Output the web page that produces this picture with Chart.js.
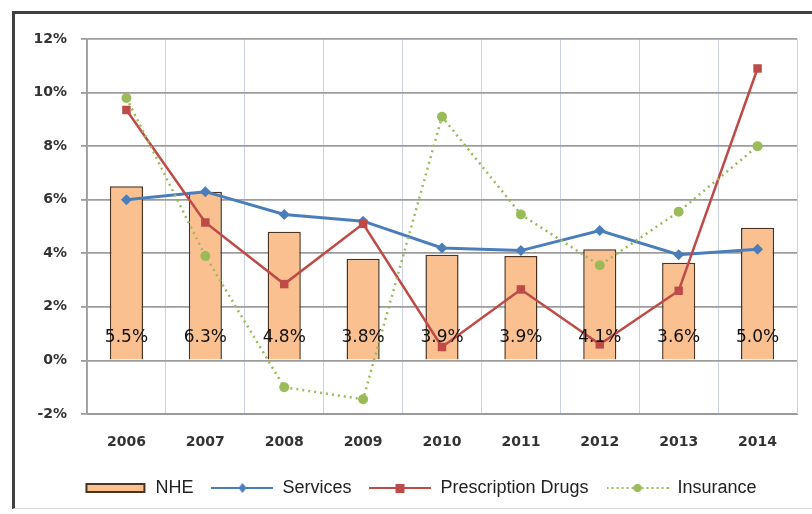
<!DOCTYPE html>
<html>
<head>
<meta charset="utf-8">
<script src="https://cdn.jsdelivr.net/npm/chart.js@4.4.1/dist/chart.umd.min.js"></script>
<style>
    html, body { margin: 0; padding: 0; background: #fff; overflow: hidden; }
    #wrap { position: relative; width: 812px; height: 514px; }
    #frame {
        position: absolute; left: 12px; top: 11px; width: 830px; height: 498px;
        border-left: 3px solid #404040; border-top: 3px solid #404040;
        border-bottom: 1px solid #d8d8d8; box-sizing: border-box;
    }
    canvas { position: absolute; left: 0; top: 0; }
</style>
</head>
<body>
<div id="wrap">
    <div id="frame"></div>
    <canvas id="grafico" width="812" height="514"></canvas>
</div>
<script>
// dados
const anos = ['2006', '2007', '2008', '2009', '2010', '2011', '2012', '2013', '2014'];
const nhe = [6.5, 6.3, 4.8, 3.8, 3.95, 3.9, 4.15, 3.65, 4.95];
const nheRotulos = ['5.5%', '6.3%', '4.8%', '3.8%', '3.9%', '3.9%', '4.1%', '3.6%', '5.0%'];
const servicos = [6.0, 6.3, 5.45, 5.2, 4.2, 4.1, 4.85, 3.95, 4.15];
const medicamentos = [9.35, 5.15, 2.85, 5.1, 0.5, 2.65, 0.6, 2.6, 10.9];
const seguros = [9.8, 3.9, -1.0, -1.45, 9.1, 5.45, 3.55, 5.55, 8.0];
const ticksY = [-2, 0, 2, 4, 6, 8, 10, 12];

const azul = '#4a7ebb';
const vermelho = '#be4b48';
const verde = '#9bbb59';

// ícones da legenda (linha + marcador)
function iconeLinha(cor, marcador, tracejado) {
    const c = document.createElement('canvas');
    c.width = 62; c.height = 14;
    const g = c.getContext('2d');
    g.strokeStyle = cor;
    g.lineWidth = 2;
    if (tracejado) g.setLineDash([2, 3]);
    g.beginPath(); g.moveTo(0, 7); g.lineTo(62, 7); g.stroke();
    g.setLineDash([]);
    g.fillStyle = cor;
    if (marcador === 'losango') {
        g.beginPath(); g.moveTo(31, 2); g.lineTo(35, 7); g.lineTo(31, 12); g.lineTo(27, 7); g.closePath(); g.fill();
    } else if (marcador === 'quadrado') {
        g.fillRect(26, 3, 9, 9);
    } else {
        g.beginPath(); g.arc(31, 7, 4, 0, Math.PI * 2); g.fill();
    }
    return c;
}
function iconeBarra() {
    const c = document.createElement('canvas');
    c.width = 62; c.height = 14;
    const g = c.getContext('2d');
    g.fillStyle = '#fbc08f';
    g.strokeStyle = '#4a3320';
    g.lineWidth = 2;
    g.fillRect(2, 3, 58, 8);
    g.strokeRect(2, 3, 58, 8);
    return c;
}
const icones = [iconeBarra(), iconeLinha(azul, 'losango'), iconeLinha(vermelho, 'quadrado'), iconeLinha(verde, 'circulo', true)];

// rótulos das barras
const rotulosBarras = {
    id: 'rotulosBarras',
    afterDatasetsDraw(chart) {
        const ctx = chart.ctx;
        const meta = chart.getDatasetMeta(0);
        const y = chart.scales.y.getPixelForValue(0.85);
        ctx.save();
        ctx.font = '17px "DejaVu Sans"';
        ctx.fillStyle = '#111';
        ctx.textAlign = 'center';
        ctx.textBaseline = 'middle';
        meta.data.forEach((bar, i) => {
            ctx.fillText(nheRotulos[i], bar.x, y);
        });
        ctx.restore();
    }
};

// empurra a legenda um pouco para a direita
const moverLegenda = {
    id: 'moverLegenda',
    afterLayout(chart) {
        if (chart.legend) {
            chart.legend.left += 22;
            chart.legend.right += 22;
        }
    }
};

new Chart(document.getElementById('grafico').getContext('2d'), {
    type: 'bar',
    data: {
        labels: anos,
        datasets: [
            {
                label: 'NHE', type: 'bar', data: nhe, order: 10,
                backgroundColor: '#fbc08f', borderColor: '#4a3320', borderWidth: 1.5,
                barPercentage: 0.42, categoryPercentage: 1
            },
            {
                label: 'Services', type: 'line', data: servicos, order: 3,
                borderColor: azul, backgroundColor: azul, borderWidth: 3,
                pointStyle: 'rectRot', pointRadius: 5.5, pointBorderWidth: 0
            },
            {
                label: 'Prescription Drugs', type: 'line', data: medicamentos, order: 2,
                borderColor: vermelho, backgroundColor: vermelho, borderWidth: 2.5,
                pointStyle: 'rect', pointRadius: 6, pointBorderWidth: 0
            },
            {
                label: 'Insurance', type: 'line', data: seguros, order: 1,
                borderColor: verde, backgroundColor: verde, borderWidth: 2.5, borderDash: [2, 4],
                pointStyle: 'circle', pointRadius: 5, pointBorderWidth: 0
            }
        ]
    },
    options: {
        responsive: false,
        animation: false,
        layout: { padding: { top: 39, right: 15, left: 0, bottom: 7 } },
        plugins: {
            tooltip: { enabled: false },
            legend: {
                position: 'bottom',
                labels: {
                    usePointStyle: true,
                    pointStyleWidth: 62,
                    padding: 18,
                    color: '#222',
                    font: { family: '"Liberation Sans"', size: 18 },
                    generateLabels(chart) {
                        return chart.data.datasets.map((ds, i) => ({
                            text: ds.label,
                            pointStyle: icones[i],
                            fillStyle: 'transparent',
                            strokeStyle: 'transparent',
                            lineWidth: 0,
                            hidden: false,
                            datasetIndex: i,
                            fontColor: '#222'
                        }));
                    }
                }
            }
        },
        scales: {
            x: {
                grid: { color: '#c9d1e3', lineWidth: 1, offset: true, drawTicks: false },
                border: { color: '#999' },
                ticks: { color: '#333', padding: 20, font: { family: '"DejaVu Sans"', size: 14, weight: 'bold' } },
                afterFit(s) { s.height = 47; }
            },
            y: {
                min: -2, max: 12,
                afterBuildTicks(s) { s.ticks = ticksY.map(v => ({ value: v })); },
                grid: { color: '#9c9c9c', lineWidth: 1.8, tickLength: 6, tickColor: '#9c9c9c' },
                border: { color: '#9c9c9c', width: 1.8 },
                ticks: {
                    color: '#333', padding: 14,
                    font: { family: '"DejaVu Sans"', size: 14, weight: 'bold' },
                    callback: v => v + '%'
                },
                afterFit(s) { s.width = 87; }
            }
        }
    },
    plugins: [rotulosBarras, moverLegenda]
});
</script>
</body>
</html>
